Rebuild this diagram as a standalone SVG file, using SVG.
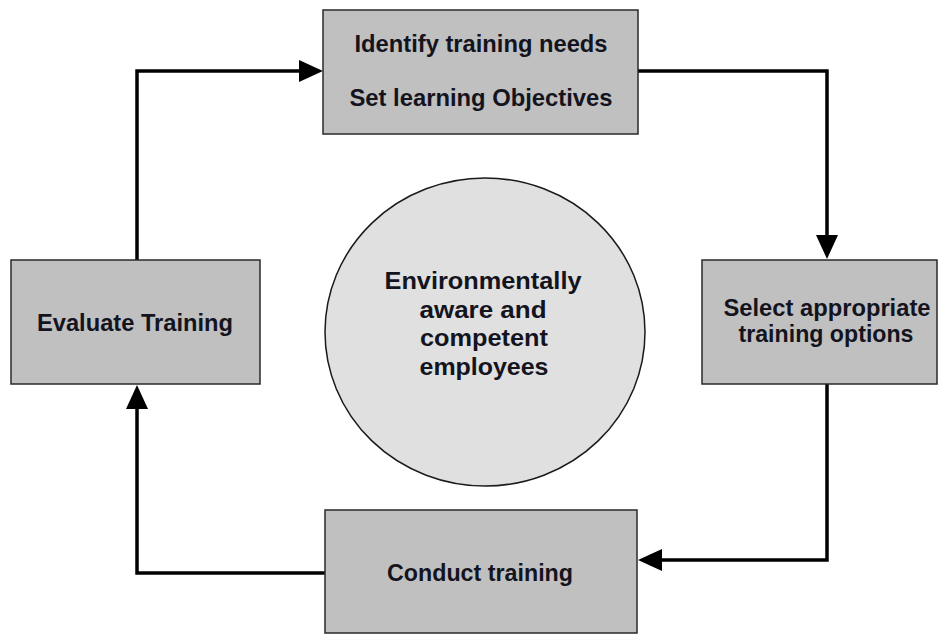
<svg xmlns="http://www.w3.org/2000/svg" width="938" height="634" viewBox="0 0 938 634">
<style>
.box{fill:#c0c0c0;stroke:#2a2a2a;stroke-width:1.5}
.circ{fill:#e0e0e0;stroke:#1a1a1a;stroke-width:1.5}
.t{font-family:"Liberation Sans",Arial,sans-serif;font-weight:bold;font-size:24px;fill:#14141e;text-anchor:middle}
.c{fill:none;stroke:#000;stroke-width:3.5}
</style>
<defs>
<marker id="ah" markerUnits="userSpaceOnUse" markerWidth="24" markerHeight="22" refX="14" refY="11" orient="auto">
<path d="M0,0 L24,11 L0,22 z" fill="#000"/>
</marker>
</defs>
<rect width="938" height="634" fill="#fff"/>
<g id="connectors">
<path class="c" d="M638,71 H827 V249" marker-end="url(#ah)"/>
<path class="c" d="M827,384 V560 H648" marker-end="url(#ah)"/>
<path class="c" d="M325,573 H137 V395" marker-end="url(#ah)"/>
<path class="c" d="M137,260 V71 H313" marker-end="url(#ah)"/>
</g>
<g id="identify">
<rect class="box" x="323" y="10" width="315" height="124"/>
<text class="t" x="481" y="52" textLength="253" lengthAdjust="spacingAndGlyphs">Identify training needs</text>
<text class="t" x="481" y="106" textLength="263" lengthAdjust="spacingAndGlyphs">Set learning Objectives</text>
</g>
<g id="select">
<rect class="box" x="702" y="260" width="235" height="124"/>
<text class="t" x="827" y="316" textLength="207" lengthAdjust="spacingAndGlyphs">Select appropriate</text>
<text class="t" x="826" y="342" textLength="175" lengthAdjust="spacingAndGlyphs">training options</text>
</g>
<g id="conduct">
<rect class="box" x="325" y="510" width="312" height="123"/>
<text class="t" x="480" y="581" textLength="186" lengthAdjust="spacingAndGlyphs">Conduct training</text>
</g>
<g id="evaluate">
<rect class="box" x="11" y="260" width="249" height="124"/>
<text class="t" x="135" y="331" textLength="196" lengthAdjust="spacingAndGlyphs">Evaluate Training</text>
</g>
<g id="center">
<ellipse class="circ" cx="485" cy="332" rx="160" ry="154"/>
<text class="t" x="483" y="289" textLength="197" lengthAdjust="spacingAndGlyphs">Environmentally</text>
<text class="t" x="483" y="318" textLength="127" lengthAdjust="spacingAndGlyphs">aware and</text>
<text class="t" x="484" y="346" textLength="128" lengthAdjust="spacingAndGlyphs">competent</text>
<text class="t" x="484" y="375" textLength="129" lengthAdjust="spacingAndGlyphs">employees</text>
</g>
</svg>
